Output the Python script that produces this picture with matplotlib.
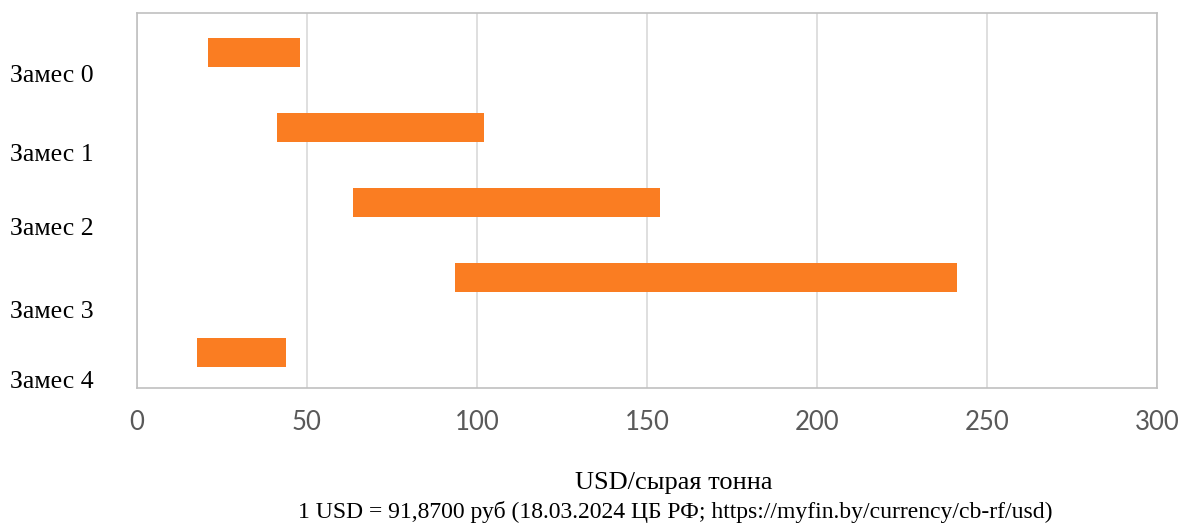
import matplotlib
matplotlib.use("Agg")
import matplotlib.pyplot as plt
import numpy as np

categories = ["Замес 0", "Замес 1", "Замес 2", "Замес 3", "Замес 4"]
start_vals = [21.0, 41.1, 63.5, 93.5, 17.5]
end_vals = [47.9, 102.1, 153.8, 241.2, 43.7]
x_ticks = [0, 50, 100, 150, 200, 250, 300]
xlabel_line1 = "USD/сырая тонна"
xlabel_line2 = "1 USD = 91,8700 руб (18.03.2024 ЦБ РФ; https://myfin.by/currency/cb-rf/usd)"

W, H = 1178, 524
fig = plt.figure(figsize=(W / 100, H / 100), dpi=100)
ax = fig.add_axes([137 / W, 1 - 388 / H, (1157 - 137) / W, (388 - 13) / H])

y = np.arange(len(categories))
widths = np.array(end_vals) - np.array(start_vals)
ax.barh(y, widths, left=start_vals, height=0.39, color="#fa7d22", zorder=3)

ax.set_xlim(0, 300)
ax.set_ylim(4.473, -0.527)
ax.set_xticks(x_ticks)
ax.set_xticklabels([str(t) for t in x_ticks], fontfamily="Lato", fontsize=18.5, color="#595959")
ax.tick_params(axis="x", length=0, pad=16)
ax.set_yticks([])
ax.grid(axis="x", color="#d9d9d9", linewidth=1.2, zorder=0)
for s in ax.spines.values():
    s.set_color("#c0c0c0")
    s.set_linewidth(1.2)

label_baseline = [82, 161, 235, 318, 388]
for name, py in zip(categories, label_baseline):
    fig.text(10 / W, 1 - py / H, name, ha="left", va="baseline",
             fontfamily="Liberation Serif", fontsize=18.5, color="black")

fig.text(674 / W, 1 - 489 / H, xlabel_line1, ha="center", va="baseline",
         fontfamily="Liberation Serif", fontsize=19, color="black")
fig.text(675 / W, 1 - 518 / H, xlabel_line2, ha="center", va="baseline",
         fontfamily="Liberation Serif", fontsize=17, color="black")

fig.savefig("out.png", dpi=100, facecolor="white")
